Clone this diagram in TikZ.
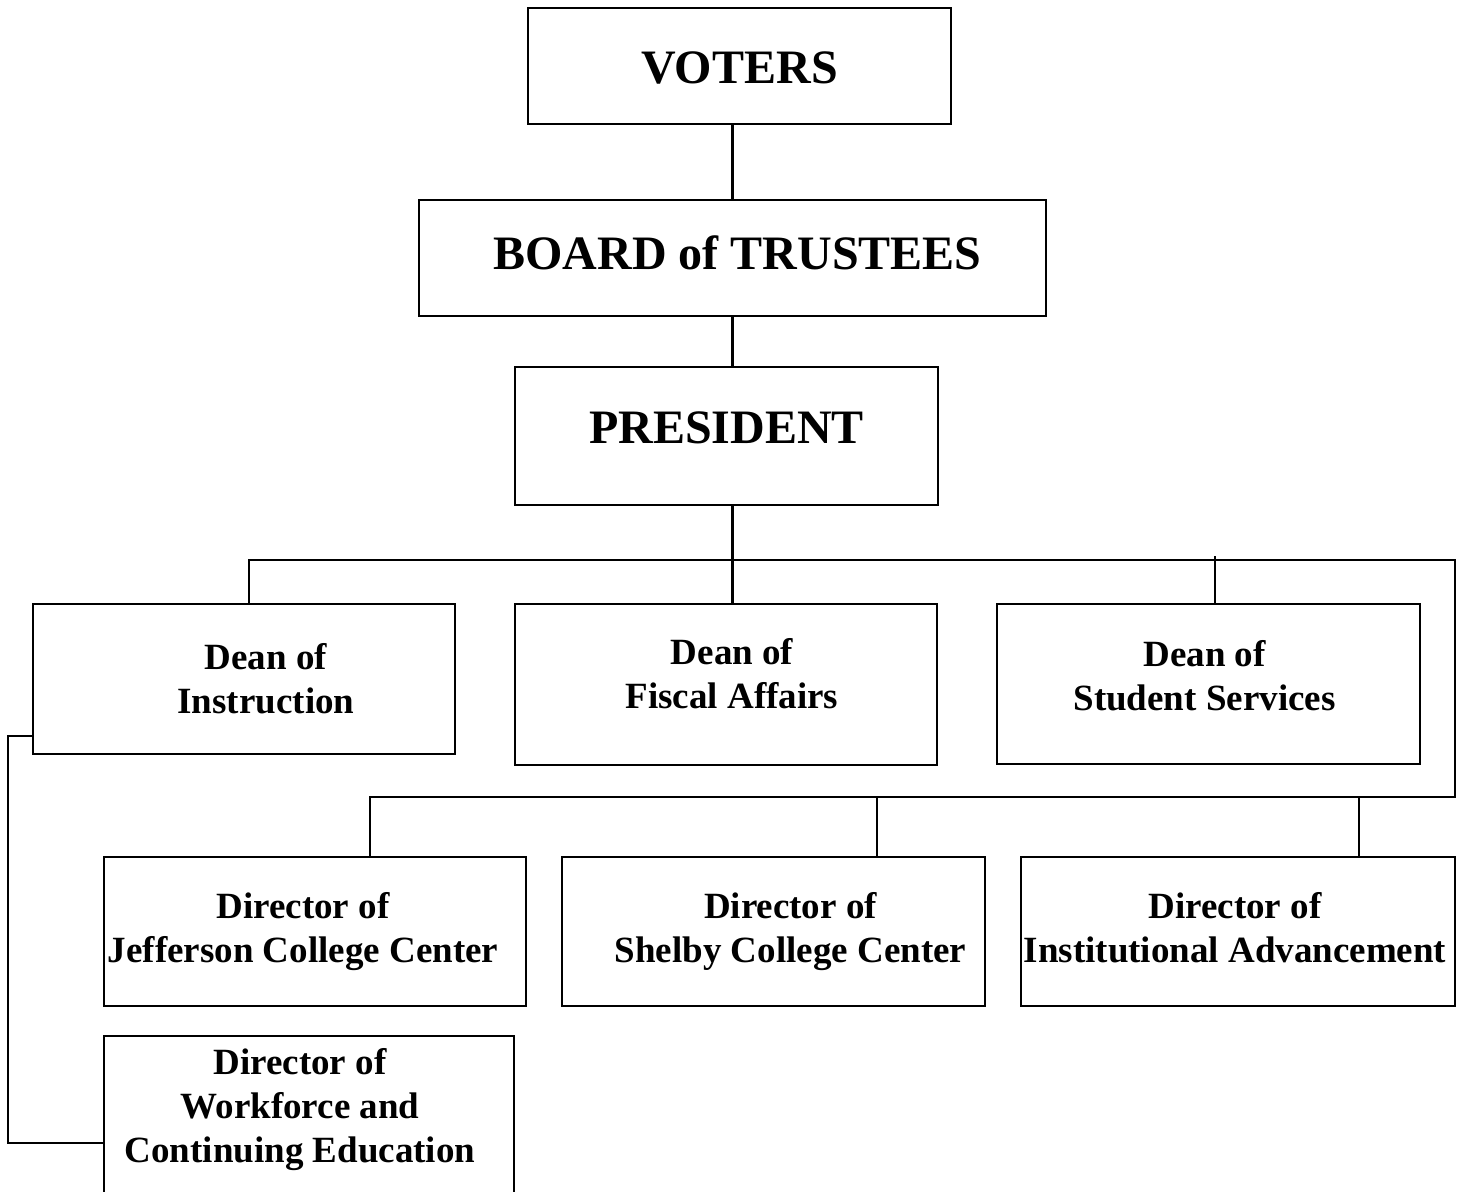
\documentclass[tikz,border=0pt]{standalone}
\usepackage{fontspec}
\setmainfont{Liberation Serif}

\tikzset{
	office/.style={draw, line width=2.3pt, inner sep=0pt},
	caption/.style={align=center, inner sep=0pt, font=\fontsize{37}{44}\selectfont\bfseries},
	topcaption/.style={caption, font=\fontsize{48}{56}\selectfont\bfseries},
	link/.style={line width=2.3pt}
}

\begin{document}
\begin{tikzpicture}[x=1pt, y=-1pt]
		\useasboundingbox (0, 0) rectangle (1468, 1192);
		%%%%% TOP %%%%%
		\node[office, minimum width=423, minimum height=116,
			label={[topcaption, yshift=-2]center:VOTERS}] (voters) at (739.5, 66) {};
		\node[office, minimum width=627, minimum height=116,
			label={[topcaption, xshift=5, yshift=5]center:BOARD of TRUSTEES}] (board) at (732.5, 258) {};
		\node[office, minimum width=423, minimum height=138,
			label={[topcaption, yshift=8]center:PRESIDENT}] (president) at (726.5, 436) {};
		
		%%%%% DEANS %%%%%
		\node[office, minimum width=422, minimum height=150,
			label={[caption, xshift=22]center:Dean of\\Instruction}] (instr) at (244, 679) {};
		\node[office, minimum width=422, minimum height=161,
			label={[caption, xshift=6, yshift=11]center:Dean of\\Fiscal Affairs}] (fiscal) at (726, 684.5) {};
		\node[office, minimum width=423, minimum height=160,
			label={[caption, xshift=-4, yshift=8]center:Dean of\\Student Services}] (student) at (1208.5, 684) {};
		
		%%%%% DIRECTORS %%%%%
		\node[office, minimum width=422, minimum height=149,
			label={[caption, xshift=-12]center:Director of\\Jefferson College Center}] (jeff) at (315, 931.5) {};
		\node[office, minimum width=423, minimum height=149,
			label={[caption, xshift=17]center:Director of\\Shelby College Center}] (shelby) at (773.5, 931.5) {};
		\node[office, minimum width=434, minimum height=149,
			label={[caption, xshift=-3, yshift=4]center:Director of\\Institutional Advancement}] (inst) at (1238, 931.5) {};
		\node[office, minimum width=410, minimum height=175,
			label={[caption, xshift=-9, yshift=14]center:Director of\\Workforce and\\Continuing Education}] (work) at (309, 1123.5) {};
		
		%%%%% LINES %%%%%
		\coordinate (busL) at (249, 560);
		\coordinate (busR) at (1455, 560);
		\coordinate (busR2) at (1455, 797);
		\coordinate (busL2) at (370, 797);
		\coordinate (tapS) at (1215, 556);
		\coordinate (tapSh) at (877, 797);
		\coordinate (tapI) at (1359, 797);
		\coordinate (elbowT) at (8, 736);
		\coordinate (elbowB) at (8, 1143);
		
		\draw[link] (voters.south -| board.north) -- (board.north);
		\draw[link] (board.south) -- (board.south |- president.north);
		\draw[link] (board.south |- president.south) -- (board.south |- fiscal.north);
		\draw[link] (busL |- instr.north) -- (busL) -- (busR) -- (busR2) -- (busL2) -- (busL2 |- jeff.north);
		\draw[link] (tapS) -- (tapS |- student.north);
		\draw[link] (tapSh) -- (tapSh |- shelby.north);
		\draw[link] (tapI) -- (tapI |- inst.north);
		\draw[link] (instr.west |- elbowT) -- (elbowT) -- (elbowB) -- (work.west |- elbowB);
		%%%%% END %%%%%
	\end{tikzpicture}
\end{document}
